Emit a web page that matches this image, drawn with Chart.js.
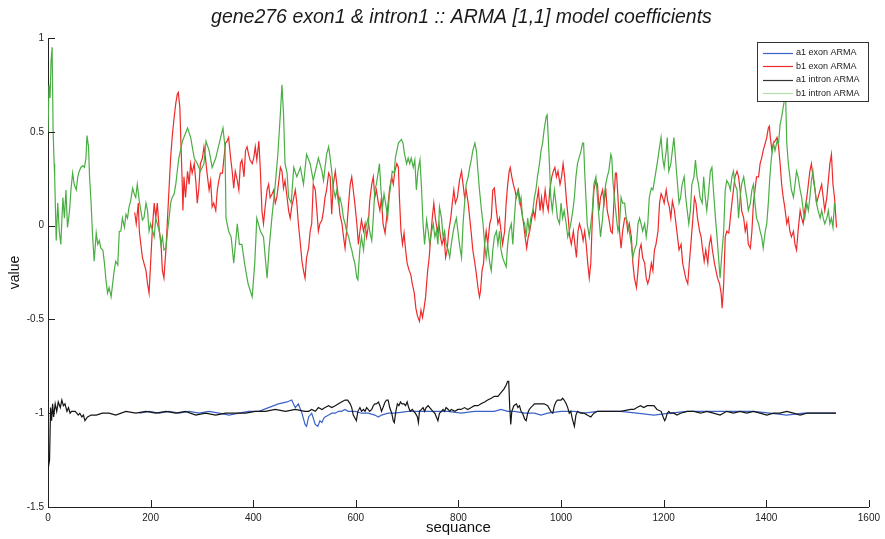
<!DOCTYPE html>
<html>
<head>
<meta charset="utf-8">
<script src="https://cdn.jsdelivr.net/npm/chart.js@4.4.1/dist/chart.umd.min.js"></script>
<style>
  html, body { margin: 0; padding: 0; background: #ffffff; }
  #wrap { width: 885px; height: 539px; position: relative; }
</style>
</head>
<body>
<div id="wrap"><canvas id="c" width="885" height="539"></canvas></div>
<script>
// ---- data (x = sequence index, y = coefficient value) ----
const chartTitle = 'gene276 exon1 & intron1 :: ARMA [1,1] model coefficients';
const seriesNames = ['a1 exon ARMA', 'b1 exon ARMA', 'a1 intron ARMA', 'b1 intron ARMA'];
const xTickValues = [0, 200, 400, 600, 800, 1000, 1200, 1400, 1600];
const xTickLabels = ['0', '200', '400', '600', '800', '1000', '1200', '1400', '1600'];
const yTickValues = [-1.5, -1, -0.5, 0, 0.5, 1];
const yTickLabels = ['-1.5', '-1', '-0.5', '0', '0.5', '1'];
const xAxisTitle = 'sequance';
const yAxisTitle = 'value';

// a1 exon ARMA (blue)
const a1Exon = [[178,-1.00],[197,-0.99],[217,-1.00],[236,-0.99],[255,-1.00],[275,-0.99],[294,-1.00],[314,-0.99],[333,-1.00],[353,-1.01],[372,-1.00],[391,-0.99],[411,-0.99],[430,-0.97],[449,-0.95],[466,-0.94],[475,-0.93],[482,-0.97],[488,-0.95],[495,-1.00],[501,-1.06],[504,-1.07],[508,-1.02],[514,-1.00],[521,-1.06],[526,-1.07],[530,-1.04],[534,-1.05],[537,-1.03],[540,-1.02],[547,-1.01],[553,-1.00],[560,-1.00],[566,-0.99],[572,-0.99],[579,-0.98],[585,-0.99],[599,-0.99],[611,-1.00],[624,-1.00],[637,-1.01],[644,-1.02],[650,-1.01],[663,-1.00],[676,-1.00],[702,-0.99],[728,-0.99],[754,-0.99],[780,-0.99],[805,-1.00],[831,-0.99],[844,-0.99],[857,-0.99],[870,-0.99],[883,-0.98],[896,-0.99],[909,-0.99],[929,-1.00],[948,-1.00],[961,-1.01],[974,-1.00],[1000,-0.99],[1026,-0.99],[1045,-1.00],[1071,-0.99],[1084,-0.99],[1116,-0.99],[1148,-1.00],[1181,-1.01],[1213,-1.00],[1246,-0.99],[1278,-0.99],[1310,-0.99],[1343,-0.99],[1375,-0.99],[1407,-1.00],[1440,-1.01],[1472,-1.00],[1504,-1.00],[1536,-1.00]];

// b1 exon ARMA (red)
const b1Exon = [[169,0.07],[172,0.01],[176,0.12],[178,-0.03],[181,-0.10],[184,-0.17],[187,-0.20],[191,-0.24],[194,-0.31],[197,-0.36],[200,-0.20],[204,0.01],[207,0.12],[210,0.04],[213,0.12],[217,-0.03],[220,-0.08],[223,-0.24],[226,-0.28],[230,-0.12],[233,0.04],[236,0.20],[239,0.36],[242,0.47],[246,0.58],[249,0.65],[252,0.70],[254,0.71],[257,0.63],[259,0.45],[261,0.28],[263,0.08],
[265,0.26],[268,0.15],[272,0.29],[275,0.22],[278,0.33],[281,0.28],[285,0.33],[288,0.24],[291,0.12],[294,0.20],[297,0.33],[301,0.36],[304,0.42],[307,0.36],[310,0.28],[314,0.19],[317,0.24],[320,0.10],[323,0.12],[327,0.08],[330,0.19],[333,0.24],[336,0.28],[340,0.28],[343,0.36],[346,0.44],[349,0.45],[352,0.47],[356,0.36],[359,0.29],[362,0.20],[365,0.29],[369,0.24],[372,0.19],[375,0.33],[378,0.35],[382,0.26],[385,0.40],[388,0.42],[391,0.38],[394,0.35],[398,0.33],[401,0.36],[404,0.42],[407,0.35],[411,0.45],[414,0.29],[417,0.08],[420,0.01],[424,0.12],[427,0.19],[430,0.22],[433,0.15],[437,0.17],[440,0.19],[443,0.12],[446,0.15],[450,0.24],[453,0.31],[456,0.29],[459,0.20],[462,0.24],[466,0.15],[469,0.08],[472,0.04],[475,0.10],[479,0.15],[482,0.19],[485,0.12],[488,0.01],[492,-0.10],[495,-0.19],[498,-0.24],[501,-0.28],[504,-0.17],[508,-0.12],[511,-0.03],[514,0.01],[517,0.22],[521,0.19],[524,0.08],
[527,-0.03],[530,0.01],[534,0.03],[537,0.08],[540,0.15],[543,0.19],[547,0.28],[550,0.26],[553,0.06],[556,0.22],[560,0.29],[563,0.22],[566,0.15],[569,0.06],[573,0.01],[576,-0.06],[579,-0.12],[582,-0.03],[586,0.12],[589,0.22],[592,0.26],[595,0.19],[598,0.12],[602,0.01],[605,-0.10],[608,-0.03],[611,0.03],[615,-0.03],[618,0.01],[621,-0.06],[624,-0.01],[627,0.13],[631,0.22],[634,0.26],[637,0.15],[640,0.19],[644,0.12],[647,0.08],[650,0.15],[653,0.01],[657,-0.04],[660,0.04],[663,0.12],[666,0.20],[670,0.26],[673,0.22],[676,0.29],[680,0.33],[683,0.31],[685,0.15],[688,-0.03],[691,-0.10],[694,-0.04],[697,-0.13],[700,-0.20],[704,-0.24],[707,-0.26],[710,-0.31],[714,-0.36],[717,-0.44],[720,-0.48],[724,-0.51],[727,-0.45],[730,-0.49],[733,-0.44],[736,-0.38],[740,-0.24],[743,-0.17],[746,-0.06],[749,0.04],[752,0.12],[755,0.04],[759,-0.03],[762,0.01],[765,-0.06],[768,-0.10],[772,-0.06],[775,-0.17],[778,-0.13],[781,-0.03],[785,0.04],[788,0.12],[791,0.19],[794,0.12],[798,0.15],
[802,0.24],[806,0.29],[809,0.22],[812,0.15],[815,0.19],[819,0.12],[822,0.04],[825,-0.04],[828,-0.13],[832,-0.20],[835,-0.26],[838,-0.33],[841,-0.38],[843,-0.35],[846,-0.24],[849,-0.20],[851,-0.10],[854,-0.03],[857,-0.10],[861,0.01],[864,0.04],[867,0.19],[870,0.20],[874,0.08],[877,0.01],[880,0.04],[883,-0.03],[886,-0.10],[890,-0.03],[893,0.12],[896,0.22],[899,0.29],[901,0.31],[904,0.26],[907,0.22],[910,0.19],[913,0.15],[917,0.19],[920,0.13],[923,0.08],[927,0.01],[930,-0.06],[933,-0.12],[936,-0.06],[939,-0.03],[943,0.04],[946,0.08],[949,0.04],[952,0.12],[956,0.19],[959,0.08],[962,0.15],[965,0.08],[969,0.19],[972,0.12],[975,0.08],[978,0.19],[982,0.26],[985,0.29],[988,0.31],[991,0.26],[994,0.29],[998,0.22],[1001,0.26],[1004,0.33],[1007,0.26],[1011,0.12],[1014,0.04],[1017,-0.06],[1020,-0.10],[1024,-0.03],[1027,-0.10],[1030,-0.17],[1033,-0.03],[1036,0.01],[1040,-0.03],[1043,-0.08],[1046,-0.03],[1049,-0.10],[1052,-0.20],[1055,-0.28],[1058,-0.20],[1061,0.04],[1064,0.19],[1068,0.24],
[1071,0.22],[1074,0.08],[1077,0.15],[1081,0.19],[1084,0.12],[1087,0.20],[1090,0.08],[1093,0.04],[1097,-0.03],[1100,-0.04],[1103,0.12],[1106,0.28],[1108,0.28],[1111,0.15],[1114,-0.03],[1117,-0.12],[1120,-0.03],[1124,0.04],[1127,0.04],[1130,-0.03],[1133,0.01],[1137,-0.06],[1140,-0.20],[1143,-0.28],[1147,-0.33],[1150,-0.24],[1153,-0.13],[1156,-0.10],[1159,-0.17],[1163,-0.20],[1166,-0.28],[1169,-0.31],[1172,-0.28],[1176,-0.20],[1179,-0.24],[1182,-0.13],[1185,-0.10],[1189,-0.03],[1192,0.12],[1195,0.17],[1198,0.15],[1201,0.12],[1205,0.19],[1208,0.13],[1211,0.10],[1214,0.04],[1217,0.13],[1221,0.08],[1224,0.01],[1227,-0.06],[1230,-0.13],[1234,-0.10],[1237,-0.20],[1240,-0.24],[1243,-0.28],[1247,-0.31],[1250,-0.20],[1253,-0.10],[1257,0.04],[1260,0.15],[1263,0.12],[1266,0.04],[1270,-0.03],[1273,-0.06],[1276,-0.13],[1279,-0.19],[1282,-0.13],[1286,-0.20],[1289,-0.10],[1292,-0.06],[1295,-0.13],[1299,-0.20],[1302,-0.24],[1305,-0.28],[1309,-0.31],[1312,-0.36],[1314,-0.44],[1317,-0.31],[1320,-0.06],[1323,-0.03],[1327,-0.04],[1330,0.04],[1333,0.12],[1336,0.19],[1339,0.26],
[1343,0.29],[1346,0.26],[1349,0.19],[1352,0.08],[1356,0.04],[1359,-0.03],[1362,0.01],[1365,-0.10],[1369,-0.12],[1372,-0.03],[1375,0.12],[1378,0.19],[1381,0.26],[1385,0.26],[1388,0.33],[1391,0.36],[1394,0.40],[1398,0.44],[1401,0.47],[1404,0.52],[1406,0.53],[1408,0.47],[1411,0.40],[1414,0.44],[1417,0.45],[1421,0.47],[1424,0.42],[1427,0.33],[1430,0.22],[1433,0.15],[1436,0.10],[1440,0.01],[1443,0.04],[1446,-0.03],[1449,-0.06],[1453,-0.03],[1456,-0.10],[1459,-0.13],[1462,-0.03],[1466,0.08],[1469,0.04],[1472,0.01],[1475,0.08],[1479,0.15],[1482,0.22],[1485,0.29],[1488,0.33],[1491,0.26],[1495,0.19],[1498,0.12],[1501,0.15],[1505,0.19],[1508,0.22],[1511,0.15],[1514,0.08],[1518,0.15],[1521,0.24],[1524,0.33],[1527,0.38],[1530,0.22],[1533,0.15],[1537,-0.01]];

// a1 intron ARMA (black)
const a1Intron = [[0,-1.30],[3,-1.25],[5,-0.97],[7,-1.04],[9,-0.95],[11,-1.02],[14,-0.95],[17,-0.99],[20,-0.94],[24,-0.97],[27,-0.93],[30,-0.96],[33,-0.95],[37,-0.99],[40,-0.97],[43,-1.00],[46,-0.99],[50,-0.99],[53,-0.99],[56,-1.00],[59,-1.01],[62,-1.00],[66,-1.02],[69,-1.01],[72,-1.04],[77,-1.02],[84,-1.01],[94,-1.01],[106,-1.00],[119,-1.00],[132,-1.01],[152,-0.99],[171,-1.00],[191,-0.99],[210,-1.00],[230,-0.99],[249,-1.00],[268,-0.99],[288,-1.01],[307,-1.00],[327,-1.01],[346,-1.00],[365,-1.00],[385,-1.00],[404,-0.99],[424,-0.99],[443,-0.98],[463,-0.99],[482,-0.98],[501,-0.99],
[508,-0.99],[514,-0.98],[521,-0.99],[527,-0.97],[534,-0.98],[540,-0.97],[547,-0.96],[553,-0.97],[560,-0.96],[566,-0.95],[572,-0.94],[579,-0.93],[584,-0.93],[589,-0.95],[592,-0.97],[595,-1.01],[599,-1.03],[601,-1.04],[604,-0.99],[608,-0.97],[611,-0.99],[615,-0.98],[618,-0.99],[621,-0.97],[624,-0.98],[627,-0.99],[631,-0.98],[634,-0.96],[637,-0.95],[640,-0.95],[644,-0.94],[647,-0.96],[650,-0.99],[653,-0.97],[657,-0.94],[660,-0.93],[663,-0.93],[666,-0.97],[670,-1.00],[673,-1.04],[675,-1.05],[678,-0.99],[681,-0.95],[684,-0.96],[687,-0.94],[690,-0.95],[694,-0.95],[697,-0.96],[700,-0.94],[703,-0.97],[706,-0.99],[710,-0.98],[713,-0.99],[716,-1.00],[720,-1.02],[722,-1.05],[724,-0.99],[728,-0.98],[731,-0.97],[734,-0.99],[737,-0.97],[741,-0.96],[744,-0.97],[747,-0.98],[750,-0.99],[754,-1.00],[757,-1.02],[760,-1.04],[763,-1.00],[767,-0.99],[770,-0.98],[773,-0.99],[776,-0.97],[780,-0.98],[783,-0.99],[786,-0.98],[793,-0.99],[799,-0.98],[805,-0.98],[812,-0.97],[818,-0.98],[825,-0.97],[831,-0.96],[838,-0.96],[844,-0.95],[851,-0.94],[857,-0.93],[864,-0.92],[870,-0.91],[877,-0.91],[883,-0.89],[889,-0.87],[893,-0.85],[896,-0.83],[898,-0.83],[900,-0.97],[902,-1.06],[904,-0.99],[908,-0.96],[913,-0.95],[916,-0.97],[919,-0.96],[922,-0.99],[925,-1.00],[929,-1.03],[932,-1.04],[935,-1.00],[938,-0.98],[941,-0.97],[945,-0.96],[948,-0.95],[955,-0.95],[961,-0.95],[967,-0.95],[974,-0.96],[980,-0.99],[984,-1.00],[987,-0.96],[990,-0.94],[993,-0.93],[1000,-0.93],[1003,-0.92],[1006,-0.93],[1010,-0.95],[1013,-0.97],[1016,-1.00],[1019,-0.99],[1022,-1.03],[1026,-1.07],[1029,-1.01],[1032,-0.99],[1038,-1.00],[1045,-1.00],[1051,-1.01],[1058,-1.02],[1064,-1.00],[1071,-0.99],[1084,-0.99],[1103,-0.99],[1116,-0.99],[1136,-0.98],[1142,-0.98],[1148,-0.97],[1155,-0.96],[1161,-0.97],[1168,-0.96],[1174,-0.96],[1181,-0.96],[1187,-0.98],[1195,-0.99],[1199,-1.02],[1202,-1.04],[1204,-1.03],[1207,-1.00],[1210,-0.99],[1213,-1.00],[1220,-1.00],[1226,-1.01],[1233,-1.00],[1246,-0.99],[1259,-0.99],[1272,-1.00],[1284,-0.99],[1297,-1.00],[1310,-1.01],[1323,-0.99],[1336,-1.00],[1349,-0.99],[1362,-1.00],[1375,-0.99],[1388,-1.00],[1401,-1.01],[1414,-1.00],[1427,-1.00],[1440,-0.99],[1453,-1.00],[1466,-1.01],[1479,-1.00],[1492,-1.00],[1504,-1.00],[1517,-1.00],[1536,-1.00]];

// b1 intron ARMA (green)
const b1Intron = [[0,0.50],[2,0.75],[4,0.68],[6,0.88],[8,0.95],[10,0.50],[12,0.33],[13,0.26],[16,-0.08],[19,0.12],[22,-0.03],[25,-0.10],[29,0.15],[32,0.04],[35,0.19],[38,-0.01],[42,0.08],[45,0.20],[48,0.28],[51,0.22],[55,0.19],[58,0.26],[61,0.29],[64,0.31],[68,0.32],[71,0.31],[74,0.36],[76,0.48],[79,0.42],[81,0.26],[84,0.12],[87,-0.06],[90,-0.19],[94,-0.04],[97,-0.10],[100,-0.08],[103,-0.12],[107,-0.13],[110,-0.20],[113,-0.29],[116,-0.36],[119,-0.33],[123,-0.38],[126,-0.31],[129,-0.24],[132,-0.19],[136,-0.21],[139,-0.03],[142,-0.03],[145,0.04],[149,-0.01],[152,0.06],[155,0.04],[158,0.10],[161,0.13],[165,0.20],[168,0.17],[171,0.15],[174,0.22],[178,0.13],[181,0.08],[184,0.03],[187,0.04],[191,0.12],[194,0.08],[197,-0.03],[200,0.01],[204,-0.03],[207,-0.06],[210,0.04],[213,0.01],[217,-0.03],[220,-0.10],[223,-0.06],[226,-0.13],[230,-0.12],[233,-0.03],[236,0.04],[239,0.12],[242,0.15],[246,0.17],[249,0.22],[252,0.29],[255,0.36],[259,0.41],
[262,0.45],[272,0.52],[278,0.47],[285,0.36],[291,0.33],[297,0.29],[304,0.33],[308,0.45],[314,0.40],[320,0.31],[327,0.36],[333,0.43],[341,0.52],[345,0.42],[347,0.04],[352,-0.03],[357,-0.06],[362,-0.20],[369,0.01],[373,-0.10],[378,-0.10],[383,-0.20],[390,-0.31],[398,-0.38],[403,-0.20],[407,0.04],[414,-0.03],[420,-0.06],[427,-0.28],[431,-0.12],[437,0.06],[443,0.22],[448,0.38],[453,0.60],[456,0.75],[459,0.60],[462,0.33],[466,0.28],[469,0.15],[474,0.12],[479,0.31],[485,0.26],[492,0.31],[498,0.22],[504,0.38],[511,0.33],[517,0.24],
[527,0.36],[534,0.29],[537,0.24],[540,0.31],[543,0.38],[547,0.42],[550,0.36],[553,0.29],[556,0.20],[560,0.15],[563,0.19],[566,0.12],[569,0.15],[573,0.10],[576,0.04],[579,0.01],[582,-0.03],[586,-0.06],[589,-0.10],[592,-0.13],[595,-0.17],[598,-0.20],[602,-0.28],[604,-0.29],[606,-0.20],[608,-0.12],[611,-0.06],[615,-0.13],[618,-0.03],[621,0.01],[624,0.04],[627,-0.03],[631,-0.08],[634,0.04],[637,0.19],[640,0.22],[644,0.29],[646,0.33],[649,0.19],[652,0.10],[655,0.17],[658,0.12],[662,0.04],[665,0.15],[668,0.22],[671,0.29],[675,0.28],[677,0.36],[680,0.40],[683,0.44],[686,0.45],[689,0.46],[692,0.44],[695,0.38],[699,0.33],[702,0.36],[705,0.33],[708,0.36],[712,0.31],[715,0.35],[718,0.19],[721,0.29],[725,0.35],[728,0.20],[731,0.01],[734,-0.10],[738,0.03],[741,-0.03],[744,-0.10],[747,-0.04],[751,0.01],[754,-0.06],[757,-0.03],[760,-0.10],[763,0.10],[767,0.04],[770,-0.06],[773,-0.03],[776,-0.10],[780,-0.13],[783,-0.17],[786,-0.10],[790,-0.03],[793,0.01],[796,0.04],
[799,-0.03],[802,-0.10],[806,-0.17],[809,0.01],[812,0.12],[815,0.22],[819,0.26],[822,0.31],[825,0.35],[828,0.40],[832,0.44],[835,0.40],[838,0.29],[841,0.19],[845,0.08],[848,0.01],[851,-0.10],[854,-0.17],[857,-0.10],[861,-0.20],[864,-0.24],[867,-0.13],[870,-0.06],[874,-0.03],[877,-0.10],[880,-0.03],[883,-0.13],[886,-0.17],[890,-0.20],[893,-0.22],[896,-0.10],[899,-0.03],[903,0.01],[906,-0.10],[909,0.04],[912,0.15],[916,0.19],[919,0.12],[922,0.15],[925,0.04],[929,0.01],[932,-0.06],[935,0.04],[938,-0.03],[941,0.04],[945,0.08],[948,0.15],[951,0.19],[954,0.26],[958,0.33],[961,0.40],[964,0.44],[967,0.51],[971,0.58],[973,0.59],[975,0.47],[978,0.29],[980,0.15],[983,0.08],[987,0.19],[990,0.12],[993,0.04],[997,0.01],[1000,0.12],[1003,0.04],[1006,0.08],[1010,0.01],[1013,-0.06],[1016,-0.03],[1019,0.01],[1023,0.08],[1026,0.15],[1029,0.26],[1032,0.33],[1035,0.36],[1039,0.40],[1042,0.44],[1044,0.44],[1046,0.29],[1049,0.12],[1051,0.01],[1055,-0.06],[1058,0.01],[1061,0.08],[1064,0.22],[1068,0.26],
[1071,0.15],[1074,0.04],[1077,-0.06],[1081,0.04],[1084,0.15],[1087,0.22],[1090,0.26],[1093,0.29],[1097,0.38],[1099,0.36],[1101,0.24],[1104,0.15],[1108,0.04],[1111,-0.03],[1114,0.01],[1117,0.15],[1120,0.12],[1124,0.12],[1127,0.04],[1130,0.01],[1133,-0.03],[1137,-0.10],[1140,-0.17],[1143,-0.13],[1147,-0.10],[1150,0.01],[1153,0.04],[1156,0.01],[1159,-0.03],[1163,0.01],[1166,-0.06],[1169,0.01],[1172,0.15],[1176,0.20],[1179,0.19],[1182,0.24],[1185,0.29],[1189,0.36],[1192,0.42],[1195,0.47],[1198,0.36],[1201,0.31],[1205,0.40],[1207,0.47],[1210,0.29],[1214,0.33],[1217,0.40],[1220,0.47],[1223,0.36],[1227,0.22],[1230,0.12],[1233,0.15],[1236,0.22],[1240,0.26],[1243,0.15],[1246,0.08],[1249,0.01],[1252,0.08],[1255,0.22],[1259,0.26],[1262,0.35],[1265,0.26],[1268,0.22],[1271,0.15],[1275,0.12],[1278,0.26],[1281,0.15],[1284,0.08],[1288,0.19],[1291,0.29],[1294,0.31],[1297,0.19],[1301,0.04],[1304,-0.06],[1307,-0.17],[1310,-0.28],[1314,-0.13],[1317,-0.03],[1320,0.19],[1323,0.24],[1327,0.22],[1330,0.19],[1333,0.26],[1336,0.29],[1339,0.22],
[1343,0.19],[1346,0.04],[1349,0.15],[1352,0.22],[1356,0.26],[1359,0.20],[1362,0.15],[1365,0.08],[1369,0.12],[1372,0.19],[1375,0.22],[1378,0.12],[1381,0.04],[1385,0.01],[1388,-0.03],[1391,-0.06],[1394,-0.12],[1398,-0.03],[1401,0.01],[1404,0.12],[1407,0.26],[1410,0.36],[1414,0.44],[1417,0.40],[1421,0.45],[1424,0.44],[1427,0.54],[1430,0.58],[1433,0.63],[1436,0.68],[1438,0.66],[1440,0.44],[1443,0.33],[1446,0.26],[1449,0.19],[1453,0.15],[1456,0.22],[1459,0.29],[1462,0.26],[1466,0.19],[1469,0.15],[1472,0.08],[1475,0.04],[1479,0.12],[1482,0.08],[1485,0.15],[1488,0.24],[1491,0.29],[1495,0.19],[1498,0.12],[1501,0.08],[1505,0.04],[1508,0.08],[1511,0.04],[1514,0.01],[1518,0.04],[1521,0.08],[1524,0.01],[1527,0.04],[1530,-0.01],[1533,0.12],[1535,0.08]];

// ---- styling ----
const lineColors = ['#3b62c6', '#ee2a2a', '#151515', '#4aae44'];
const legendLineColors = ['#3b62c6', '#ee2a2a', '#333333', '#b2dcaa'];
const FONT = "'Liberation Sans', Arial, sans-serif";

const toPts = arr => arr.map(p => ({ x: p[0], y: p[1] }));
const seriesData = [a1Exon, b1Exon, a1Intron, b1Intron];

const datasets = seriesData.map((arr, i) => ({
  label: seriesNames[i],
  data: toPts(arr),
  borderColor: lineColors[i],
  backgroundColor: lineColors[i],
  borderWidth: 1.2,
  pointRadius: 0,
  tension: 0,
  fill: false,
  order: 4 - i
}));

const decorPlugin = {
  id: 'decor',
  afterDraw(chart) {
    const ctx = chart.ctx;
    const ca = chart.chartArea;
    const xs = chart.scales.x, ys = chart.scales.y;
    ctx.save();
    // inward tick marks
    ctx.strokeStyle = '#222';
    ctx.lineWidth = 1;
    ctx.beginPath();
    xTickValues.forEach(v => {
      const px = Math.round(xs.getPixelForValue(v)) + 0.5;
      ctx.moveTo(px, ca.bottom);
      ctx.lineTo(px, ca.bottom - 7);
    });
    yTickValues.forEach(v => {
      const py = Math.round(ys.getPixelForValue(v)) + 0.5;
      ctx.moveTo(ca.left, py);
      ctx.lineTo(ca.left + 7, py);
    });
    ctx.stroke();
    // title
    ctx.fillStyle = '#1a1a1a';
    ctx.font = 'italic 19.5px ' + FONT;
    ctx.textAlign = 'center';
    ctx.textBaseline = 'middle';
    ctx.fillText(chartTitle, (ca.left + ca.right) / 2 + 3, 18);
    // legend box
    const bx = 757.5, by = 42.5, bw = 111, bh = 59;
    ctx.fillStyle = '#ffffff';
    ctx.fillRect(bx, by, bw, bh);
    ctx.strokeStyle = '#333';
    ctx.strokeRect(bx, by, bw, bh);
    ctx.font = '9px ' + FONT;
    ctx.textAlign = 'left';
    ctx.textBaseline = 'middle';
    seriesNames.forEach((name, i) => {
      const yy = 52.5 + i * 13.5;
      ctx.strokeStyle = legendLineColors[i];
      ctx.lineWidth = 1.2;
      ctx.beginPath();
      ctx.moveTo(763, Math.round(yy) + 0.5);
      ctx.lineTo(793, Math.round(yy) + 0.5);
      ctx.stroke();
      ctx.fillStyle = '#222';
      ctx.fillText(name, 796, yy + 0.5);
    });
    ctx.restore();
  }
};

new Chart(document.getElementById('c'), {
  type: 'line',
  data: { datasets },
  options: {
    responsive: false,
    animation: false,
    devicePixelRatio: 1,
    layout: { padding: { left: 0, right: 13, top: 38, bottom: 0 } },
    plugins: { legend: { display: false }, title: { display: false }, tooltip: { enabled: false } },
    elements: { line: { borderWidth: 1.2 } },
    scales: {
      x: {
        type: 'linear',
        min: 0, max: 1600,
        afterBuildTicks: s => { s.ticks = xTickValues.map(v => ({ value: v })); },
        afterFit: s => { s.height = 32; },
        grid: { display: true, drawOnChartArea: false, drawTicks: false, color: 'rgba(0,0,0,0)' },
        border: { display: true, color: '#222', width: 1 },
        ticks: {
          padding: 5,
          color: '#222',
          font: { family: FONT, size: 10 },
          maxRotation: 0,
          autoSkip: false,
          callback: v => xTickLabels[xTickValues.indexOf(v)]
        },
        title: { display: true, text: xAxisTitle, color: '#111', font: { family: FONT, size: 15 }, padding: { top: 0, bottom: 2 } }
      },
      y: {
        type: 'linear',
        min: -1.5, max: 1,
        afterBuildTicks: s => { s.ticks = yTickValues.map(v => ({ value: v })); },
        afterFit: s => { s.width = 48; },
        grid: { display: true, drawOnChartArea: false, drawTicks: false, color: 'rgba(0,0,0,0)' },
        border: { display: true, color: '#222', width: 1 },
        ticks: {
          padding: 4,
          color: '#222',
          font: { family: FONT, size: 10 },
          autoSkip: false,
          callback: v => yTickLabels[yTickValues.indexOf(v)]
        },
        title: { display: true, text: yAxisTitle, color: '#111', font: { family: FONT, size: 14 }, padding: { top: 7, bottom: 0 } }
      }
    }
  },
  plugins: [decorPlugin]
});
</script>
</body>
</html>
